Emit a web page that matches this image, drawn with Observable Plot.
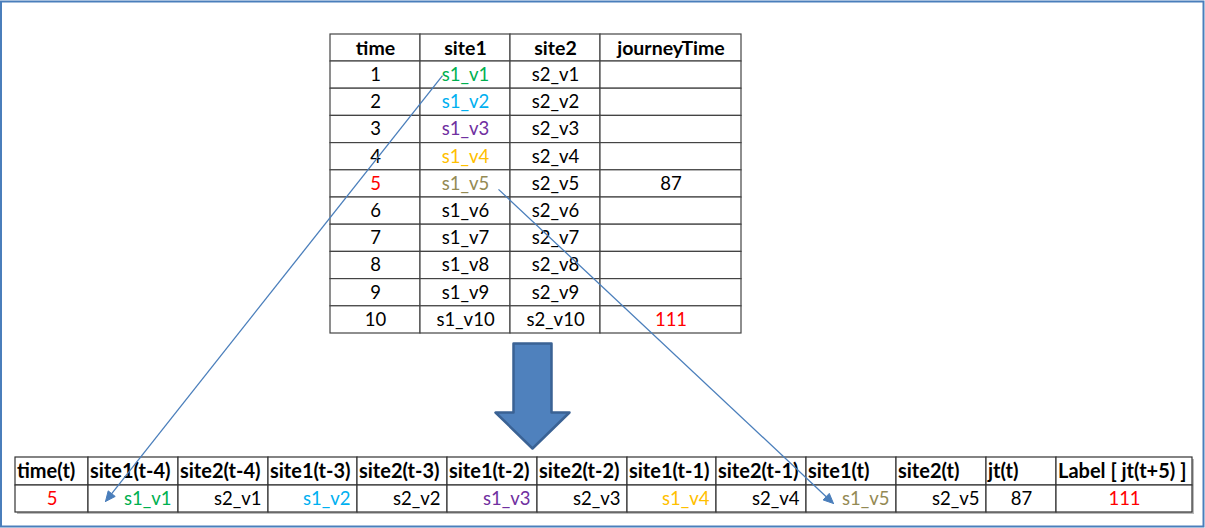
<!DOCTYPE html>
<html>
<head>
<meta charset="utf-8">
<script src="https://cdn.jsdelivr.net/npm/d3@7"></script>
<script src="https://cdn.jsdelivr.net/npm/@observablehq/plot@0.6"></script>
<style>
  html, body { margin: 0; padding: 0; background: #fff; }
  #chart { width: 1205px; height: 528px; }
</style>
</head>
<body>
<div id="chart"></div>
<script>
// ---------------- DATA ----------------
const topColumns = ["time", "site1", "site2", "journeyTime"];
const times = [1, 2, 3, 4, 5, 6, 7, 8, 9, 10];
const site1 = ["s1_v1", "s1_v2", "s1_v3", "s1_v4", "s1_v5", "s1_v6", "s1_v7", "s1_v8", "s1_v9", "s1_v10"];
const site2 = ["s2_v1", "s2_v2", "s2_v3", "s2_v4", "s2_v5", "s2_v6", "s2_v7", "s2_v8", "s2_v9", "s2_v10"];
const journeyTime = [null, null, null, null, 87, null, null, null, null, 111];

const bottomColumns = ["time(t)", "site1(t-4)", "site2(t-4)", "site1(t-3)", "site2(t-3)",
  "site1(t-2)", "site2(t-2)", "site1(t-1)", "site2(t-1)", "site1(t)", "site2(t)", "jt(t)", "Label [ jt(t+5) ]"];
const bottomRow = ["5", "s1_v1", "s2_v1", "s1_v2", "s2_v2", "s1_v3", "s2_v3", "s1_v4", "s2_v4", "s1_v5", "s2_v5", "87", "111"];

// which top-table site1 cell maps to which bottom-table column
const links = [
  {fromRow: 0, fromCol: "site1", toCol: "site1(t-4)"},
  {fromRow: 4, fromCol: "site1", toCol: "site1(t)"}
];

// ---------------- STYLE / LAYOUT ----------------
const valueColors = {
  "s1_v1": "#00b050", "s1_v2": "#00b0f0", "s1_v3": "#7030a0",
  "s1_v4": "#ffc000", "s1_v5": "#948a54"
};
const RED = "#ff0000";
const FONT = "Lato, 'Open Sans', sans-serif";

const W = 1205, H = 528;
const topEdges = [330, 420, 510, 600, 741];
const topY0 = 34, topHeaderH = 27, topRowH = 27.2;
const botEdges = [15, 88, 178, 268, 357, 447, 537, 627, 716, 806, 896, 986, 1056, 1192];
const botY = [457, 485, 512];
const centeredBottom = new Set(["time(t)", "jt(t)", "Label [ jt(t+5) ]"]);
const linkLayout = [
  {sdx: -23, sdy: 0.5, edx: 17, edy: 2.5},
  {sdx: 33, sdy: 5.5, edx: 27, edy: 4.5}
];

// ---------------- BUILD TABLES ----------------
const topCells = [];
const topHeader = topColumns.map((c, i) => ({
  x1: topEdges[i], x2: topEdges[i + 1], y1: topY0, y2: topY0 + topHeaderH, text: c
}));
topCells.push(...topHeader);
const topBody = [];
const columnsData = {time: times, site1, site2, journeyTime};
times.forEach((t, r) => {
  topColumns.forEach((c, i) => {
    const v = columnsData[c][r];
    const y1 = topY0 + topHeaderH + r * topRowH;
    const cell = {x1: topEdges[i], x2: topEdges[i + 1], y1, y2: y1 + topRowH,
      text: v == null ? "" : String(v), col: c, row: r};
    let color = "#000";
    if (valueColors[v]) color = valueColors[v];
    if (c === "time" && v === 5) color = RED;
    if (c === "journeyTime" && v === 111) color = RED;
    cell.color = color;
    topCells.push(cell);
    topBody.push(cell);
  });
});

const botHeader = bottomColumns.map((c, i) => ({
  x1: botEdges[i], x2: botEdges[i + 1], y1: botY[0], y2: botY[1], text: c
}));
const botBody = bottomRow.map((v, i) => {
  const c = bottomColumns[i];
  let color = valueColors[v] || "#000";
  if (c === "time(t)" || c.startsWith("Label")) color = RED;
  return {x1: botEdges[i], x2: botEdges[i + 1], y1: botY[1], y2: botY[2], text: v, col: c,
    color, centered: centeredBottom.has(c)};
});

// link geometry derived from table cells
const arrowLines = [], arrowHeads = [];
links.forEach((l, k) => {
  const from = topBody.find(d => d.row === l.fromRow && d.col === l.fromCol);
  const to = botBody.find(d => d.col === l.toCol);
  const L = linkLayout[k];
  const sx = (from.x1 + from.x2) / 2 + L.sdx, sy = (from.y1 + from.y2) / 2 + L.sdy;
  const ex = to.x1 + L.edx, ey = (to.y1 + to.y2) / 2 + L.edy;
  const dx = ex - sx, dy = ey - sy, len = Math.hypot(dx, dy);
  const ux = dx / len, uy = dy / len, hl = 10, hw = 4.5;
  const bx = ex - ux * hl, by = ey - uy * hl;
  arrowLines.push({x1: sx, y1: sy, x2: bx, y2: by});
  const pts = [[ex, ey], [bx - uy * hw, by + ux * hw], [bx + uy * hw, by - ux * hw], [ex, ey]];
  pts.forEach(p => arrowHeads.push({x: p[0], y: p[1], id: k}));
});

// big down arrow shape
const bigArrow = (() => {
  const cx = 532, top = 343, shaftHalf = 19, headHalf = 37, headY = 412, tip = 448;
  const p = [[cx - shaftHalf, top], [cx + shaftHalf, top], [cx + shaftHalf, headY], [cx + headHalf, headY],
    [cx, tip], [cx - headHalf, headY], [cx - shaftHalf, headY], [cx - shaftHalf, top]];
  return p.map(([x, y]) => ({x, y}));
})();

// ---------------- PLOT ----------------
const chart = Plot.plot({
  width: W, height: H, margin: 0,
  x: {type: "linear", domain: [0, W], range: [0, W], axis: null},
  y: {type: "linear", domain: [0, H], range: [0, H], axis: null},
  color: {type: "identity"},
  style: {fontFamily: FONT, background: "#fff"},
  marks: [
    // outer frame
    Plot.rect([{x1: 1, x2: W - 1.5, y1: 1.5, y2: H - 1.5}], {x1: "x1", x2: "x2", y1: "y1", y2: "y2", fill: "none", stroke: "#4a7ebb", strokeWidth: 2}),
    // bottom table shadow
    Plot.rect([{x1: botEdges[0] + 2, x2: botEdges[botEdges.length - 1] + 2, y1: botY[0] + 2, y2: botY[2] + 2}],
      {x1: "x1", x2: "x2", y1: "y1", y2: "y2", fill: "#bbb"}),
    Plot.rect([...botHeader, ...botBody], {x1: "x1", x2: "x2", y1: "y1", y2: "y2", fill: "#fff", stroke: "#333", strokeWidth: 1.2}),
    // top table
    Plot.rect(topCells, {x1: "x1", x2: "x2", y1: "y1", y2: "y2", fill: "#fff", stroke: "#444", strokeWidth: 1.2}),
    Plot.text(topHeader, {x: d => (d.x1 + d.x2) / 2, y: d => (d.y1 + d.y2) / 2 + 0.5, text: "text",
      fontSize: 19.5, fontWeight: "bold", fill: "#000", textAnchor: "middle", lineAnchor: "middle"}),
    Plot.text(topBody, {x: d => (d.x1 + d.x2) / 2, y: d => (d.y1 + d.y2) / 2, text: "text",
      fontSize: 18.5, fill: "color", textAnchor: "middle", lineAnchor: "middle"}),
    // bottom table text
    Plot.text(botHeader, {x: d => d.x1 + 1.5, y: d => (d.y1 + d.y2) / 2, text: "text",
      fontSize: 20, fontWeight: "bold", fill: "#000", textAnchor: "start", lineAnchor: "middle"}),
    Plot.text(botBody.filter(d => !d.centered), {x: d => d.x2 - 7, y: d => (d.y1 + d.y2) / 2, text: "text",
      fontSize: 18.5, fill: "color", textAnchor: "end", lineAnchor: "middle"}),
    Plot.text(botBody.filter(d => d.centered), {x: d => (d.x1 + d.x2) / 2, y: d => (d.y1 + d.y2) / 2, text: "text",
      fontSize: 18.5, fill: "color", textAnchor: "middle", lineAnchor: "middle"}),
    // big arrow
    Plot.line(bigArrow, {x: "x", y: "y", fill: "#4f81bd", stroke: "#3a6294", strokeWidth: 2.5, curve: "linear"}),
    // link arrows
    Plot.link(arrowLines, {x1: "x1", y1: "y1", x2: "x2", y2: "y2", stroke: "#4a7ebb", strokeWidth: 1.3}),
    Plot.line(arrowHeads, {x: "x", y: "y", z: "id", fill: "#4a7ebb", stroke: "#4a7ebb", strokeWidth: 1})
  ]
});
document.getElementById("chart").appendChild(chart);
</script>
</body>
</html>
